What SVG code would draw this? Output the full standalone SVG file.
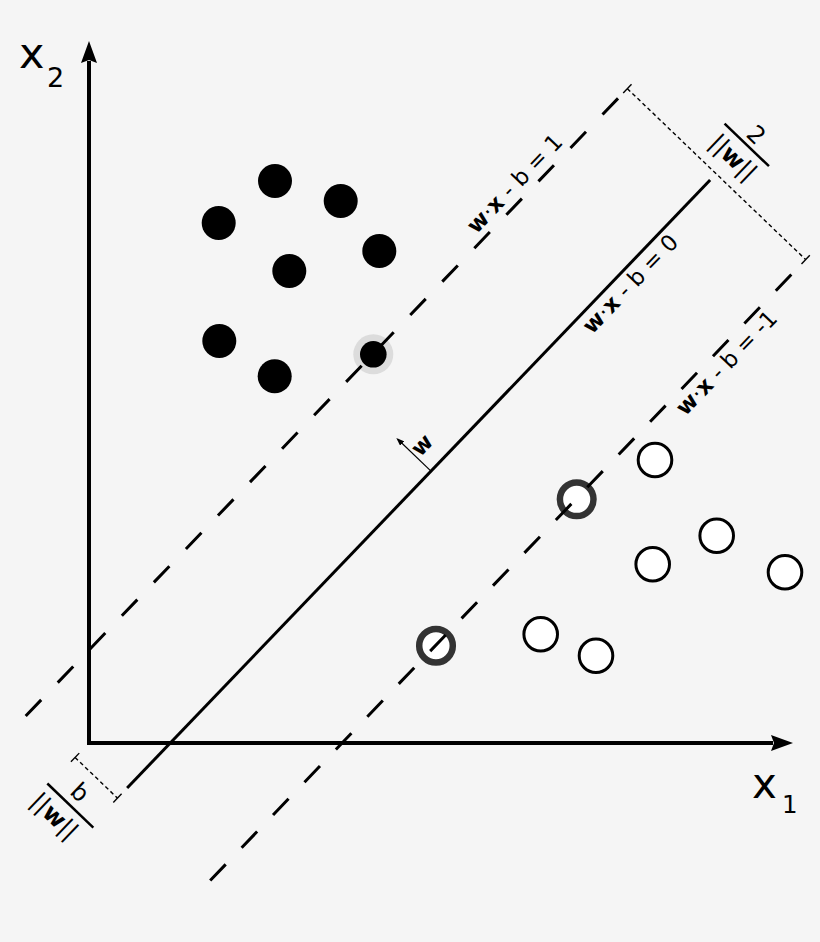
<svg xmlns="http://www.w3.org/2000/svg" width="820" height="942" viewBox="0 0 820 942">
<style>
.bg{fill:#f5f5f5}
.pos{fill:#000}
.neg{fill:#fff;stroke:#000;stroke-width:3}
.svneg{fill:#fff;stroke:#333;stroke-width:6.5}
.halo{fill:#dcdcdc}
.axis{fill:none;stroke:#000;stroke-width:4;stroke-linejoin:miter}
.hyper{stroke:#000;stroke-width:3;fill:none}
.mup{stroke:#000;stroke-width:3;fill:none;stroke-dasharray:22.4 23.9}
.mlo{stroke:#000;stroke-width:3;fill:none;stroke-dasharray:22.4 23}
.dim{stroke:#000;stroke-width:1.4;fill:none;stroke-dasharray:4 3}
.tick{stroke:#000;stroke-width:1.4}
.bar{stroke:#000;stroke-width:2.5}
.wvec{stroke:#000;stroke-width:1.2;fill:none}
.lbl{font-family:"DejaVu Sans",sans-serif;fill:#000}
.bd{font-weight:bold}
</style>
<defs>
<marker id="axhead" markerUnits="userSpaceOnUse" markerWidth="24" markerHeight="16" viewBox="0 0 24 16" refX="2" refY="8" orient="auto-start-reverse">
<path d="M0,0 L22,8 L0,16 L3,8 z" fill="#000"/>
</marker>
<marker id="whead" markerUnits="userSpaceOnUse" markerWidth="8" markerHeight="6" viewBox="0 0 8 6" refX="6" refY="3" orient="auto">
<path d="M0,0 L8,3 L0,6 z" fill="#000"/>
</marker>
</defs>
<rect class="bg" x="0" y="0" width="820" height="942"/>

<g id="axes">
<path class="axis" d="M89,61 L89,743 L773,743" marker-start="url(#axhead)" marker-end="url(#axhead)"/>
</g>
<g id="axis-labels" class="lbl">
<text x="19" y="67.7" font-size="43">x</text>
<text x="47" y="86.7" font-size="27">2</text>
<text x="752" y="798" font-size="42">x</text>
<text x="782" y="812.7" font-size="24.5">1</text>
</g>

<g id="n-neg1"><circle class="neg" cx="655" cy="460" r="16.8"/></g>
<g id="n-neg2"><circle class="neg" cx="716.7" cy="535.7" r="16.8"/></g>
<g id="n-neg3"><circle class="neg" cx="652.7" cy="564.3" r="16.8"/></g>
<g id="n-neg4"><circle class="neg" cx="785" cy="572.3" r="16.8"/></g>
<g id="n-neg5"><circle class="neg" cx="540.7" cy="634.3" r="16.8"/></g>
<g id="n-neg6"><circle class="neg" cx="596" cy="655.7" r="16.8"/></g>
<g id="n-svneg1"><circle class="svneg" cx="576.7" cy="499.3" r="16.8"/></g>
<g id="n-svneg2"><circle class="svneg" cx="436" cy="645.7" r="16.8"/></g>
<g id="n-svpos-halo"><circle class="halo" cx="373.3" cy="354.3" r="20"/></g>

<g id="connectors" transform="translate(403.3,500) rotate(-46.2)">
<line class="hyper" x1="-399" y1="0" x2="443.3" y2="0"/>
<line class="mup" x1="-417.3" y1="-123" x2="438.5" y2="-123"/>
<line class="mlo" x1="-408.3" y1="124" x2="431.3" y2="124"/>
<line class="wvec" x1="40" y1="0" x2="40" y2="-46" marker-end="url(#whead)"/>
<line class="dim" x1="452" y1="-123" x2="452" y2="124"/>
<line class="tick" x1="446" y1="-123" x2="458" y2="-123"/>
<line class="tick" x1="446" y1="124" x2="458" y2="124"/>
<line class="dim" x1="-413" y1="-58.7" x2="-413" y2="0"/>
<line class="tick" x1="-419" y1="-58.7" x2="-407" y2="-58.7"/>
<line class="tick" x1="-419" y1="0" x2="-407" y2="0"/>
</g>

<g id="n-pos1"><circle class="pos" cx="275" cy="181" r="17"/></g>
<g id="n-pos2"><circle class="pos" cx="340.7" cy="201" r="17"/></g>
<g id="n-pos3"><circle class="pos" cx="218.7" cy="223" r="17"/></g>
<g id="n-pos4"><circle class="pos" cx="379.3" cy="251" r="17"/></g>
<g id="n-pos5"><circle class="pos" cx="289.3" cy="271" r="17"/></g>
<g id="n-pos6"><circle class="pos" cx="219.3" cy="341" r="17"/></g>
<g id="n-pos7"><circle class="pos" cx="274.7" cy="376.3" r="17"/></g>
<g id="n-svpos"><circle class="pos" cx="373.3" cy="354.3" r="13.3"/></g>

<g id="labels" class="lbl" transform="translate(403.3,500) rotate(-46.2)">
<text x="242" y="-131" font-size="22.5"><tspan class="bd">w</tspan>·<tspan class="bd">x</tspan> - b = 1</text>
<text x="249.8" y="22" font-size="22.5"><tspan class="bd">w</tspan>·<tspan class="bd">x</tspan> - b = 0</text>
<text x="255.2" y="146" font-size="22.5"><tspan class="bd">w</tspan>·<tspan class="bd">x</tspan> - b = -1</text>
<text x="52.6" y="-17.2" font-size="22" text-anchor="middle" class="bd">w</text>
<g transform="rotate(90)">
<line class="bar" x1="-28.6" y1="-494" x2="32.9" y2="-494"/>
<text x="2" y="-499.5" font-size="24" text-anchor="middle">2</text>
<text x="1" y="-467.5" font-size="24" text-anchor="middle">||<tspan class="bd">w</tspan>||</text>
<line class="bar" x1="-60.7" y1="451" x2="3" y2="451"/>
<text x="-31" y="443" font-size="24" text-anchor="middle">b</text>
<text x="-33" y="477.6" font-size="24" text-anchor="middle">||<tspan class="bd">w</tspan>||</text>
</g>
</g>
</svg>
